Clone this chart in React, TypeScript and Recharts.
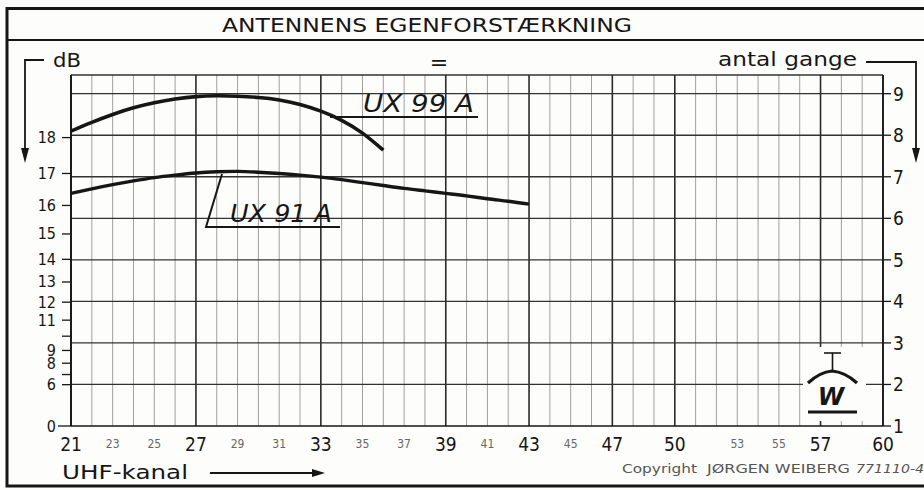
import React from 'react';
import { LineChart, Line, XAxis, YAxis, ReferenceLine } from 'recharts';

// UHF channels on which the curves were read
const channels = [21, 22, 23, 24, 25, 26, 27, 28, 29, 30, 31, 32, 33, 34, 35, 36, 37, 38, 39, 40, 41, 42, 43];
// gain factors ("antal gange")
const ux99A = [8.1, 8.31, 8.5, 8.66, 8.78, 8.87, 8.93, 8.95, 8.94, 8.91, 8.85, 8.74, 8.58, 8.36, 8.05, 7.64];
const ux91A = [6.6, 6.71, 6.81, 6.9, 6.98, 7.04, 7.09, 7.12, 7.13, 7.11, 7.08, 7.04, 6.99, 6.93, 6.86, 6.79, 6.72, 6.66, 6.6, 6.54, 6.47, 6.41, 6.34];

// grid channels (one vertical line each)
const gridChannels = [21, 22, 23, 24, 25, 26, 27, 28, 29, 30, 31, 32, 33, 34, 35, 36, 37, 38, 39, 40, 41, 42, 43, 44, 45, 46, 47, 48, 49, 50, 51, 52, 53, 54, 55, 56, 57, 58, 59, 60];
const majorChannels = [21, 27, 33, 39, 43, 47, 50, 57, 60];
const xTickLabels = [21, 23, 25, 27, 29, 31, 33, 35, 37, 39, 41, 43, 45, 47, 50, 53, 55, 57, 60];
const bigXLabels = [21, 27, 33, 39, 43, 47, 50, 57, 60];

// right axis: gain factor
const gainTicks = [1, 2, 3, 4, 5, 6, 7, 8, 9];
const gainTop = 9.45;
// left axis: dB (voltage gain, 20·log10)
const dbTicks = [0, 6, 7, 8, 9, 10, 11, 12, 13, 14, 15, 16, 17, 18];
const dbLabeled = [0, 6, 8, 9, 11, 12, 13, 14, 15, 16, 17, 18];

const FONT = "'DejaVu Sans Condensed', 'Liberation Sans Narrow', 'DejaVu Sans', sans-serif";
const TFONT = "'DejaVu Sans', sans-serif";
const INK = '#161616';
const PAPER = '#fdfdfc';

const data = channels.map((c, i) => ({
  ch: c,
  ux91: ux91A[i],
  ux99: i < ux99A.length ? ux99A[i] : null,
}));

const dbToGain = (d: number) => Math.pow(10, d / 20);

const LeftTick = (props: any) => {
  const { x, y, payload } = props;
  const db = Math.round(20 * Math.log10(payload.value));
  const labeled = dbLabeled.includes(db);
  return (
    <g>
      <line x1={x - (db === 0 ? 13 : 9)} x2={x} y1={y} y2={y} stroke={INK} strokeWidth={1.3} />
      {labeled && (
        <text x={x - 15} y={y + 5.5} textAnchor="end" fontFamily={FONT} fontSize={16} fill={INK}>
          {db}
        </text>
      )}
    </g>
  );
};

const RightTick = (props: any) => {
  const { x, y, payload } = props;
  return (
    <g>
      <line x1={x} x2={x + 8} y1={y} y2={y} stroke={INK} strokeWidth={1.3} />
      <text x={x + 10} y={y + 7} textAnchor="start" fontFamily={FONT} fontSize={19} fill={INK}>
        {payload.value}
      </text>
    </g>
  );
};

const BottomTick = (props: any) => {
  const { x, y, payload } = props;
  const big = bigXLabels.includes(payload.value);
  return (
    <text
      x={x}
      y={big ? y + 25 : y + 22}
      textAnchor="middle"
      fontFamily={FONT}
      fontSize={big ? 19 : 12}
      fill={big ? INK : '#666'}
    >
      {payload.value}
    </text>
  );
};

export default function App() {
  return (
    <div style={{ position: 'absolute', left: 0, top: 0, width: 924, height: 490, background: PAPER }}>
      <LineChart
        width={924}
        height={490}
        data={data}
        margin={{ top: 75, right: 0, bottom: 0, left: 0 }}
      >
        <XAxis
          dataKey="ch"
          type="number"
          domain={[21, 60]}
          ticks={xTickLabels}
          interval={0}
          height={64}
          tickSize={0}
          tickMargin={0}
          tickLine={false}
          axisLine={{ stroke: INK, strokeWidth: 1.6 }}
          tick={<BottomTick />}
        />
        <YAxis
          yAxisId="db"
          orientation="left"
          type="number"
          width={71}
          domain={[1, gainTop]}
          ticks={dbTicks.map(dbToGain)}
          interval={0}
          tickSize={0}
          tickMargin={0}
          tickLine={false}
          axisLine={{ stroke: INK, strokeWidth: 1.8 }}
          tick={<LeftTick />}
          allowDataOverflow
        />
        <YAxis
          yAxisId="g"
          orientation="right"
          type="number"
          width={41}
          domain={[1, gainTop]}
          ticks={gainTicks}
          interval={0}
          tickSize={0}
          tickMargin={0}
          tickLine={false}
          axisLine={{ stroke: INK, strokeWidth: 1.6 }}
          tick={<RightTick />}
          allowDataOverflow
        />
        {gridChannels.map((c) => (
          <ReferenceLine
            key={'v' + c}
            x={c}
            yAxisId="g"
            stroke={majorChannels.includes(c) ? '#2a2a2a' : '#a0a0a0'}
            strokeWidth={majorChannels.includes(c) ? 1.6 : 1}
            ifOverflow="extendDomain"
          />
        ))}
        {gainTicks.slice(1).map((g) => (
          <ReferenceLine key={'h' + g} y={g} yAxisId="g" stroke="#333" strokeWidth={1.3} />
        ))}
        <ReferenceLine y={gainTop} yAxisId="g" stroke="#333" strokeWidth={1.3} ifOverflow="extendDomain" />
        <Line
          yAxisId="g"
          dataKey="ux99"
          type="natural"
          stroke={INK}
          strokeWidth={3.6}
          dot={false}
          isAnimationActive={false}
        />
        <Line
          yAxisId="g"
          dataKey="ux91"
          type="natural"
          stroke={INK}
          strokeWidth={3.4}
          dot={false}
          isAnimationActive={false}
        />
      </LineChart>
      <svg
        width={924}
        height={490}
        style={{ position: 'absolute', left: 0, top: 0, pointerEvents: 'none' }}
      >
        {/* frame */}
        <rect x={7} y={8.5} width={930} height={477.5} fill="none" stroke={INK} strokeWidth={3} />
        <line x1={7} x2={924} y1={40} y2={40} stroke={INK} strokeWidth={2} />
        <text x={222} y={32} fontFamily={TFONT} fontSize={19} fill={INK} textLength={410} lengthAdjust="spacingAndGlyphs">
          ANTENNENS EGENFORSTÆRKNING
        </text>
        {/* dB bracket */}
        <path d="M44,60 H25 V152" fill="none" stroke={INK} strokeWidth={1.8} />
        <path d="M21,148 L29,148 L25,163 Z" fill={INK} />
        <text x={53} y={67} fontFamily={TFONT} fontSize={19} fill={INK} textLength={28} lengthAdjust="spacingAndGlyphs">dB</text>
        <text x={439} y={70} textAnchor="middle" fontFamily={TFONT} fontSize={22} fill={INK}>=</text>
        {/* antal gange bracket */}
        <text x={718} y={66} fontFamily={TFONT} fontSize={19} fill={INK} textLength={139} lengthAdjust="spacingAndGlyphs">antal gange</text>
        <path d="M866,62 H916 V152" fill="none" stroke={INK} strokeWidth={1.8} />
        <path d="M912,148 L920,148 L916,163 Z" fill={INK} />
        {/* curve labels */}
        <path d="M330,117 H478" fill="none" stroke={INK} strokeWidth={2} />
        <text x={363} y={112} fontFamily={TFONT} fontStyle="italic" fontSize={25} fill={INK} textLength={111} lengthAdjust="spacingAndGlyphs">UX 99 A</text>
        <path d="M222,174 L206,227 H340" fill="none" stroke={INK} strokeWidth={2} />
        <text x={230} y={222} fontFamily={TFONT} fontStyle="italic" fontSize={25} fill={INK} textLength={102} lengthAdjust="spacingAndGlyphs">UX 91 A</text>
        {/* x axis title */}
        <text x={62} y={479} fontFamily={TFONT} fontSize={19} fill={INK} textLength={126} lengthAdjust="spacingAndGlyphs">UHF-kanal</text>
        <line x1={210} x2={315} y1={473} y2={473} stroke={INK} strokeWidth={2} />
        <path d="M312,469 L325,473 L312,477 Z" fill={INK} />
        {/* copyright */}
        <text x={622} y={473} fontFamily={TFONT} fontSize={12} fill="#555" textLength={75} lengthAdjust="spacingAndGlyphs">Copyright</text>
        <text x={707} y={473} fontFamily={TFONT} fontSize={12} fill="#555" textLength={143} lengthAdjust="spacingAndGlyphs">JØRGEN WEIBERG</text>
        <text x={856} y={473} fontFamily={TFONT} fontStyle="italic" fontSize={12} fill="#555" textLength={68} lengthAdjust="spacingAndGlyphs">771110-4</text>
        {/* logo */}
        <rect x={803} y={347} width={63} height={74} fill={PAPER} />
        <line x1={824} x2={841} y1={353} y2={353} stroke={INK} strokeWidth={1.6} />
        <line x1={832.5} x2={832.5} y1={353} y2={371} stroke={INK} strokeWidth={1.6} />
        <path d="M808,383 Q820,372 832,371 Q845,372 857,383" fill="none" stroke={INK} strokeWidth={3.2} />
        <text x={831} y={405} textAnchor="middle" fontFamily={TFONT} fontWeight="bold" fontStyle="italic" fontSize={24} fill={INK}>W</text>
        <line x1={808} x2={857} y1={412} y2={412} stroke={INK} strokeWidth={3} />
      </svg>
    </div>
  );
}
